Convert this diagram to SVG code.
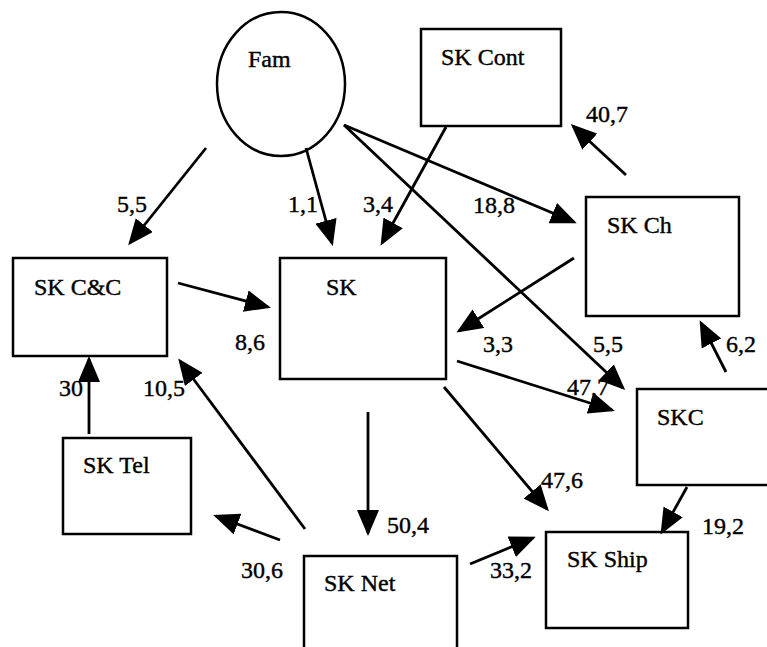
<svg xmlns="http://www.w3.org/2000/svg" width="767" height="647" viewBox="0 0 767 647">
<style>
.n{fill:none;stroke:#000;stroke-width:2.5}
text{font-family:Liberation Serif,Times New Roman,serif;font-size:24px;fill:#000;stroke:#000;stroke-width:0.4}
.c line{stroke:#000;stroke-width:2.8;marker-end:url(#ah)}
</style>
<defs>
<marker id="ah" markerUnits="userSpaceOnUse" markerWidth="26" markerHeight="22" refX="23" refY="11" orient="auto" viewBox="0 0 26 22">
<path d="M0,0 L26,11 L0,22 Z" fill="#000"/>
</marker>
</defs>
<rect width="767" height="647" fill="#fff"/>
<g id="fam"><ellipse class="n" cx="281" cy="84" rx="64" ry="72"/><text x="248" y="67">Fam</text></g>
<g id="skcont"><rect class="n" x="421" y="29" width="140" height="97"/><text x="441" y="65">SK Cont</text></g>
<g id="skch"><rect class="n" x="586" y="197" width="153" height="119"/><text x="607" y="233">SK Ch</text></g>
<g id="skcc"><rect class="n" x="13" y="258" width="154" height="98"/><text x="34" y="295">SK C&amp;C</text></g>
<g id="sk"><rect class="n" x="280" y="258" width="166" height="121"/><text x="326" y="295">SK</text></g>
<g id="skc"><rect class="n" x="637" y="389" width="140" height="96"/><text x="657" y="425">SKC</text></g>
<g id="sktel"><rect class="n" x="63" y="438" width="128" height="96"/><text x="83" y="473">SK Tel</text></g>
<g id="sknet"><rect class="n" x="304" y="556" width="153" height="110"/><text x="324" y="591">SK Net</text></g>
<g id="skship"><rect class="n" x="546" y="532" width="142" height="96"/><text x="567" y="567">SK Ship</text></g>
<g class="c" id="connectors">
<line x1="206" y1="148" x2="130" y2="243"/>
<line x1="306" y1="148" x2="332" y2="243"/>
<line x1="446" y1="127" x2="382" y2="243"/>
<line x1="344" y1="125" x2="574" y2="222"/>
<line x1="344" y1="125" x2="623" y2="388"/>
<line x1="626" y1="175" x2="573" y2="126"/>
<line x1="574" y1="258" x2="459" y2="331"/>
<line x1="457" y1="361" x2="612" y2="410"/>
<line x1="444" y1="387" x2="547" y2="509"/>
<line x1="726" y1="372" x2="701" y2="323"/>
<line x1="687" y1="487" x2="662" y2="532"/>
<line x1="470" y1="564" x2="533" y2="538"/>
<line x1="178" y1="283" x2="268" y2="307"/>
<line x1="89" y1="434" x2="89" y2="359"/>
<line x1="305" y1="529" x2="180" y2="361"/>
<line x1="280" y1="540" x2="216" y2="516"/>
<line x1="368" y1="412" x2="368" y2="533"/>
</g>
<g id="labels">
<text x="117" y="212">5,5</text>
<text x="288" y="212">1,1</text>
<text x="363" y="212">3,4</text>
<text x="473" y="213">18,8</text>
<text x="586" y="122">40,7</text>
<text x="235" y="350">8,6</text>
<text x="483" y="352">3,3</text>
<text x="593" y="352">5,5</text>
<text x="726" y="352">6,2</text>
<text x="567" y="395">47,7</text>
<text x="541" y="488">47,6</text>
<text x="702" y="534">19,2</text>
<text x="490" y="578">33,2</text>
<text x="59" y="396">30</text>
<text x="143" y="396">10,5</text>
<text x="387" y="533">50,4</text>
<text x="241" y="578">30,6</text>
</g>
</svg>
